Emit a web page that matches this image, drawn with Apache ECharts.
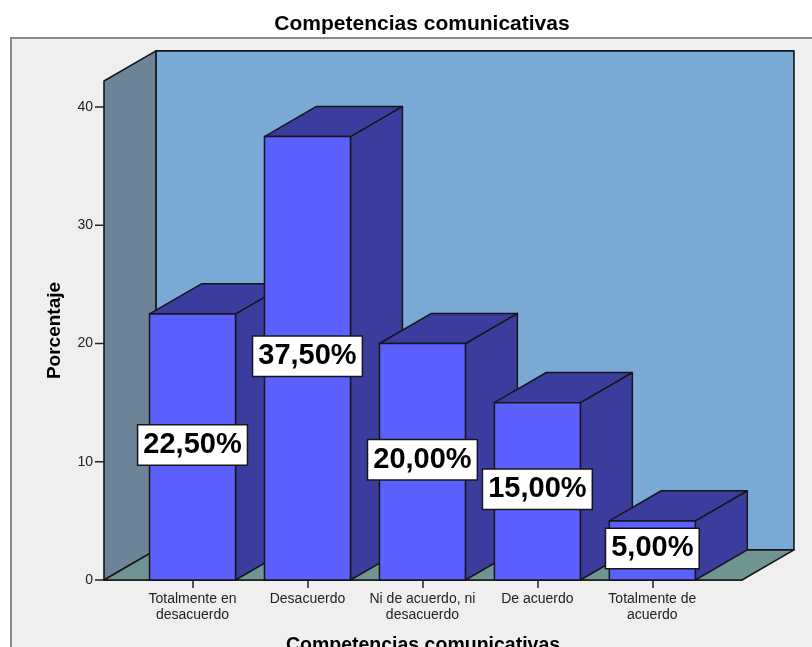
<!DOCTYPE html>
<html>
<head>
<meta charset="utf-8">
<title>Competencias comunicativas</title>
<script src="https://cdn.jsdelivr.net/npm/echarts@6/dist/echarts.min.js"></script>
<style>
  html, body { margin: 0; padding: 0; background: #ffffff; }
  #chart { width: 812px; height: 647px; }
</style>
</head>
<body>
<div id="chart"></div>
<script>
// Response categories (x axis) and the share of answers in each, in percent
const categories = [
  'Totalmente en\ndesacuerdo',
  'Desacuerdo',
  'Ni de acuerdo, ni\ndesacuerdo',
  'De acuerdo',
  'Totalmente de\nacuerdo'
];
const percentages = [22.5, 37.5, 20.0, 15.0, 5.0];
const yTicks = [0, 10, 20, 30, 40];

// Extent of the floor / walls in axis units
const X_MIN = -0.77, X_MAX = 4.78, Y_MAX = 42.2;
const FONT = '"Liberation Sans", Arial, sans-serif';
const EDGE = '#161616';
const TICK_LEN = 9;

// Depth offset of the 3D box, proportional to one category step
function depthVec(api) {
  const w = api.size([1, 0])[0];
  return [w * 0.452, -w * 0.262];
}

function wallsRender(params, api) {
  const [dx, dy] = depthVec(api);
  const fl = api.coord([X_MIN, 0]);
  const fr = api.coord([X_MAX, 0]);
  const tl = api.coord([X_MIN, Y_MAX]);
  const tr = api.coord([X_MAX, Y_MAX]);
  const sh = p => [p[0] + dx, p[1] + dy];
  const edge = { stroke: EDGE, lineWidth: 1.6, lineJoin: 'round' };
  // value-axis ticks on the front edge of the side wall
  const ticks = yTicks.map(t => {
    const p = api.coord([X_MIN, t]);
    return { type: 'line', shape: { x1: p[0] - TICK_LEN, y1: p[1], x2: p[0], y2: p[1] },
             style: { stroke: '#222', lineWidth: 1.5 } };
  });
  return {
    type: 'group',
    children: [
      { type: 'polygon', shape: { points: [sh(fl), sh(fr), sh(tr), sh(tl)] },
        style: Object.assign({ fill: '#7aa9d6' }, edge) },
      { type: 'polygon', shape: { points: [fl, sh(fl), sh(tl), tl] },
        style: Object.assign({ fill: '#6d8397' }, edge) },
      { type: 'polygon', shape: { points: [fl, fr, sh(fr), sh(fl)] },
        style: Object.assign({ fill: '#6e9592' }, edge) }
    ].concat(ticks)
  };
}

function barGeom(api) {
  const i = api.value(0), v = api.value(1);
  const w = api.size([1, 0])[0];
  const half = w * 0.374;
  const base = api.coord([i, 0]);
  const top = api.coord([i, v]);
  return { cx: base[0], x0: base[0] - half, x1: base[0] + half, yb: base[1], yt: top[1], v: v };
}

function barRender(params, api) {
  const g = barGeom(api);
  const [dx, dy] = depthVec(api);
  const edge = { stroke: EDGE, lineWidth: 1.5, lineJoin: 'round' };
  return {
    type: 'group',
    children: [
      { type: 'polygon',
        shape: { points: [[g.x1, g.yt], [g.x1 + dx, g.yt + dy], [g.x1 + dx, g.yb + dy], [g.x1, g.yb]] },
        style: Object.assign({ fill: '#3b3d9e' }, edge) },
      { type: 'polygon',
        shape: { points: [[g.x0, g.yt], [g.x0 + dx, g.yt + dy], [g.x1 + dx, g.yt + dy], [g.x1, g.yt]] },
        style: Object.assign({ fill: '#3b3d9e' }, edge) },
      { type: 'polygon',
        shape: { points: [[g.x0, g.yt], [g.x1, g.yt], [g.x1, g.yb], [g.x0, g.yb]] },
        style: Object.assign({ fill: '#5b60ff' }, edge) }
    ]
  };
}

function fmtPct(v) {
  return v.toFixed(2).replace('.', ',') + '%';
}

function labelRender(params, api) {
  const g = barGeom(api);
  return {
    type: 'text',
    x: g.cx,
    y: (g.yb + g.yt) / 2 - 2,
    style: {
      text: fmtPct(g.v),
      fontFamily: FONT,
      fontSize: 29,
      fontWeight: 'bold',
      fill: '#000',
      align: 'center',
      verticalAlign: 'middle',
      backgroundColor: '#ffffff',
      borderColor: EDGE,
      borderWidth: 1.5,
      padding: [6, 5, 4, 5]
    }
  };
}

const barData = percentages.map((v, i) => [i, v]);
const tickIdx = categories.map((c, i) => i);

const chart = echarts.init(document.getElementById('chart'), null, { renderer: 'canvas' });
chart.setOption({
  animation: false,
  backgroundColor: '#ffffff',
  title: {
    text: 'Competencias comunicativas',
    left: 417,
    top: 9,
    textAlign: 'center',
    textStyle: { fontFamily: FONT, fontSize: 21, fontWeight: 'bold', color: '#000' }
  },
  graphic: {
    elements: [
      { type: 'rect', z: -100, shape: { x: 11, y: 38, width: 900, height: 700 },
        style: { fill: '#efefef', stroke: '#8a8a8a', lineWidth: 2 } }
    ]
  },
  grid: { left: 104, right: 70, top: 81, bottom: 67, containLabel: false, outerBoundsMode: 'none' },
  xAxis: {
    type: 'value',
    min: X_MIN,
    max: X_MAX,
    splitLine: { show: false },
    axisLine: { show: true, lineStyle: { color: EDGE, width: 1.6 } },
    axisTick: { show: true, customValues: tickIdx, length: 8, lineStyle: { color: '#222', width: 1.5 } },
    axisLabel: {
      customValues: tickIdx,
      formatter: v => categories[Math.round(v)],
      fontFamily: FONT, fontSize: 14, color: '#222', lineHeight: 16, margin: 11
    },
    name: 'Competencias comunicativas',
    nameLocation: 'middle',
    nameGap: 56,
    nameTextStyle: { fontFamily: FONT, fontSize: 19.5, fontWeight: 'bold', color: '#000' }
  },
  yAxis: {
    type: 'value',
    min: 0,
    max: Y_MAX,
    interval: 10,
    splitLine: { show: false },
    axisLine: { show: true, lineStyle: { color: EDGE, width: 1.6 } },
    axisTick: { show: false },
    axisLabel: {
      customValues: yTicks,
      fontFamily: FONT, fontSize: 14, color: '#222', margin: 11
    },
    name: 'Porcentaje',
    nameLocation: 'middle',
    nameGap: 40,
    nameTextStyle: { fontFamily: FONT, fontSize: 19, fontWeight: 'bold', color: '#000' }
  },
  series: [
    { type: 'custom', name: 'walls', z: 1, clip: false, silent: true,
      data: [[0, 0]], renderItem: wallsRender },
    { type: 'custom', name: 'Porcentaje', z: 2, clip: false,
      data: barData, renderItem: barRender },
    { type: 'custom', name: 'labels', z: 3, clip: false, silent: true,
      data: barData, renderItem: labelRender }
  ]
});
</script>
</body>
</html>
